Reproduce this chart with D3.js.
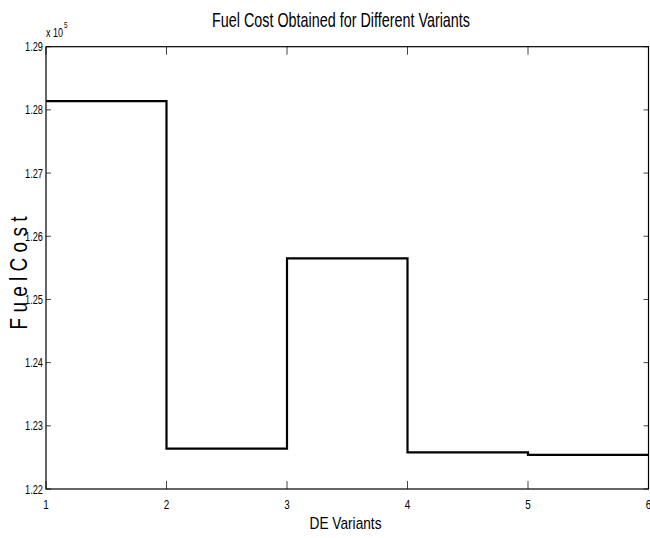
<!DOCTYPE html>
<html>
<head>
<meta charset="utf-8">
<script src="https://cdn.jsdelivr.net/npm/d3@7"></script>
<style>
  body { margin: 0; background: #fff; }
  svg text { font-family: "Liberation Sans Narrow", "Arial Narrow", "Liberation Sans", sans-serif; fill: #000; }
</style>
</head>
<body>
<div id="chart"></div>
<script>
// DE variant index and fuel cost per variant (stairs plot, last value repeated to close the step)
const variants = [1, 2, 3, 4, 5, 6];
const fuelCost = [128140, 122640, 125650, 122580, 122540, 122540];
const yTicks = [122000, 123000, 124000, 125000, 126000, 127000, 128000, 129000];
const xTicks = [1, 2, 3, 4, 5, 6];

const width = 650, height = 538;
const plotLeft = 46, plotRight = 648.5, plotTop = 46.7, plotBottom = 489;

const svg = d3.select("#chart").append("svg")
  .attr("width", width)
  .attr("height", height);

const x = d3.scaleLinear().domain([1, 6]).range([plotLeft, plotRight]);
const y = d3.scaleLinear().domain([122000, 129000]).range([plotBottom, plotTop]);

// tick marks inside the box, on all four sides
const g = svg.append("g");
xTicks.forEach(t => {
  g.append("line").attr("x1", x(t)).attr("x2", x(t)).attr("y1", plotBottom).attr("y2", plotBottom - 8)
    .attr("stroke", "#444").attr("stroke-width", 1);
  g.append("line").attr("x1", x(t)).attr("x2", x(t)).attr("y1", plotTop).attr("y2", plotTop + 8)
    .attr("stroke", "#444").attr("stroke-width", 1);
  g.append("text").attr("x", x(t)).attr("y", 509)
    .attr("text-anchor", "middle").style("font-size", "13px")
    .attr("textLength", 5.5).attr("lengthAdjust", "spacingAndGlyphs").text(t);
});
yTicks.forEach(t => {
  g.append("line").attr("x1", plotLeft).attr("x2", plotLeft + 5).attr("y1", y(t)).attr("y2", y(t))
    .attr("stroke", "#444").attr("stroke-width", 1);
  g.append("line").attr("x1", plotRight).attr("x2", plotRight - 5).attr("y1", y(t)).attr("y2", y(t))
    .attr("stroke", "#444").attr("stroke-width", 1);
  g.append("text").attr("x", 43).attr("y", y(t) + 4.5)
    .attr("text-anchor", "end").style("font-size", "13px")
    .attr("textLength", 18).attr("lengthAdjust", "spacingAndGlyphs")
    .text((t / 1e5).toFixed(2));
});

// axes box
svg.append("rect")
  .attr("x", plotLeft).attr("y", plotTop)
  .attr("width", plotRight - plotLeft).attr("height", plotBottom - plotTop)
  .attr("fill", "none").attr("stroke", "#000").attr("stroke-width", 1.2);

// stairs line
const pts = variants.map((v, i) => [v, fuelCost[i]]);
const line = d3.line()
  .x(d => x(d[0]))
  .y(d => y(d[1]))
  .curve(d3.curveStepAfter);

svg.append("path")
  .datum(pts)
  .attr("d", line)
  .attr("fill", "none")
  .attr("stroke", "#000")
  .attr("stroke-width", 2.2);

// exponent label
svg.append("text").attr("x", 46).attr("y", 37).style("font-size", "12px")
  .attr("textLength", 17).attr("lengthAdjust", "spacingAndGlyphs").text("x 10");
svg.append("text").attr("x", 64).attr("y", 28).style("font-size", "9px")
  .attr("textLength", 3.5).attr("lengthAdjust", "spacingAndGlyphs").text("5");

// title
svg.append("text")
  .attr("x", 341).attr("y", 27)
  .attr("text-anchor", "middle")
  .attr("textLength", 258).attr("lengthAdjust", "spacingAndGlyphs")
  .style("font-size", "21px")
  .text("Fuel Cost Obtained for Different Variants");

// x label
svg.append("text")
  .attr("x", 345.5).attr("y", 529)
  .attr("text-anchor", "middle")
  .attr("textLength", 72).attr("lengthAdjust", "spacingAndGlyphs")
  .style("font-size", "17px")
  .text("DE Variants");

// y label
svg.append("text")
  .attr("transform", "translate(27,273) rotate(-90)")
  .attr("text-anchor", "middle")
  .attr("textLength", 113).attr("lengthAdjust", "spacingAndGlyphs")
  .style("font-size", "23px")
  .text("F u e l  C o s t");
</script>
</body>
</html>
